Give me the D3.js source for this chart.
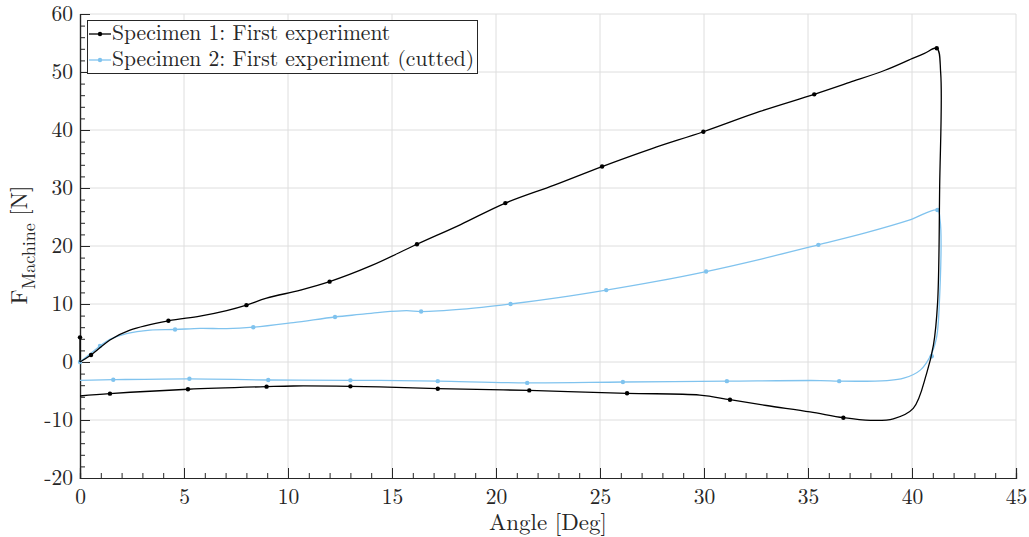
<!DOCTYPE html>
<html><head><meta charset="utf-8">
<script src="https://cdn.jsdelivr.net/npm/d3@7"></script>
<style>body{margin:0;background:#fff}svg{display:block}</style>
</head><body><div id="chart"></div>
<script>
// ---- data ----
const xTicks = [0,5,10,15,20,25,30,35,40,45];
const yTicks = [-20,-10,0,10,20,30,40,50,60];
const seriesNames = ["Specimen 1: First experiment","Specimen 2: First experiment (cutted)"];
const seriesColors = ["#000000","#80c3ee"];
// Specimen 1 path (loading then unloading)
const s1X = [0,0,0.53,1.44,2.4,4.25,5.77,7.05,8.0,8.97,10.6,12.0,14.0,16.2,18.3,20.45,22.8,25.1,27.5,29.97,32.69,35.3,37.0,38.7,40.0,40.6,41.19,41.38,41.33,41.23,41.03,40.7,40.06,39.1,38.0,36.7,35.1,33.0,31.25,29.8,26.3,21.6,17.2,14.4,13.0,10.26,8.97,5.19,1.44,0];
const s1Y = [4.25,0,1.2,3.8,5.5,7.1,7.9,8.85,9.8,11.0,12.4,13.85,16.6,20.3,23.7,27.4,30.5,33.7,36.8,39.7,43.2,46.15,48.2,50.3,52.3,53.2,54.1,49.8,30.2,10.2,2.9,-2.0,-8.0,-9.8,-10.05,-9.6,-8.6,-7.5,-6.5,-5.7,-5.4,-4.9,-4.6,-4.3,-4.2,-4.14,-4.25,-4.7,-5.46,-5.86];
const s1MarkX = [0,0.53,4.25,8.0,12.0,16.2,20.45,25.1,29.97,35.3,41.19,36.7,31.25,26.3,21.6,17.2,13.0,8.97,5.19,1.44];
const s1MarkY = [4.25,1.2,7.1,9.8,13.85,20.3,27.4,33.7,39.7,46.15,54.1,-9.6,-6.5,-5.4,-4.9,-4.6,-4.2,-4.25,-4.7,-5.46];
// Specimen 2 path
const s2X = [0,0.96,1.44,2.24,3.37,4.57,5.77,7.05,8.33,10.26,12.26,13.46,14.42,15.7,16.4,18.4,20.7,23.0,25.3,27.7,30.1,32.8,35.5,37.8,39.9,41.22,41.35,41.3,41.19,40.95,40.4,39.6,38.8,36.5,35.6,31.1,26.1,21.5,17.2,14.4,13.0,9.05,5.26,1.6,0];
const s2Y = [0,2.76,3.9,4.9,5.5,5.6,5.8,5.75,6.0,6.8,7.76,8.2,8.56,8.85,8.7,9.1,10.0,11.1,12.4,13.9,15.6,17.8,20.2,22.3,24.5,26.2,24.5,9.0,4.4,1.5,-1.4,-2.8,-3.2,-3.3,-3.2,-3.3,-3.45,-3.6,-3.3,-3.16,-3.16,-3.1,-2.9,-3.05,-3.16];
const s2MarkX = [0,0.96,4.57,8.33,12.26,16.4,20.7,25.3,30.1,35.5,41.22,40.95,36.5,31.1,26.1,21.5,17.2,13.0,9.05,5.26,1.6];
const s2MarkY = [0,2.76,5.6,6.0,7.76,8.7,10.0,12.4,15.6,20.2,26.2,1.0,-3.3,-3.3,-3.45,-3.6,-3.3,-3.16,-3.1,-2.9,-3.05];

// ---- layout ----
const FONT = "'Latin Modern Roman', 'Liberation Serif'";
const W = 1029, H = 537;
const m = {left:80, right:13, top:14, bottom:59};
const svg = d3.select("#chart").append("svg").attr("width",W).attr("height",H);
const x = d3.scaleLinear().domain([0,45]).range([m.left, W-m.right]);
const y = d3.scaleLinear().domain([-20,60]).range([H-m.bottom, m.top]);
const axisColor = "#262626";

// grid
const g = svg.append("g");
g.selectAll(".gx").data(xTicks.slice(1)).enter().append("line")
  .attr("x1",d=>x(d)).attr("x2",d=>x(d)).attr("y1",y(-20)).attr("y2",y(60))
  .attr("stroke","#dedede").attr("stroke-width",1);
g.selectAll(".gy").data(yTicks.slice(1)).enter().append("line")
  .attr("x1",x(0)).attr("x2",x(45)).attr("y1",d=>y(d)).attr("y2",d=>y(d))
  .attr("stroke","#dedede").attr("stroke-width",1);

// axes
const fmt = d => String(d);
const xAxis = d3.axisBottom(x).tickValues(xTicks).tickSize(-10).tickPadding(11).tickFormat(fmt);
const xMinor = d3.axisBottom(x).tickValues(d3.range(0,46,1)).tickSize(-5).tickFormat("");
const yAxis = d3.axisLeft(y).tickValues(yTicks).tickSize(-10).tickPadding(7).tickFormat(fmt);
const yMinor = d3.axisLeft(y).tickValues(d3.range(-20,61,2)).tickSize(-5).tickFormat("");
function style(sel){
  sel.attr("font-family",null).attr("font-size",null);
  sel.select(".domain").attr("stroke",axisColor).attr("stroke-width",1.2);
  sel.selectAll(".tick line").attr("stroke",axisColor).attr("stroke-width",1);
  sel.selectAll(".tick text").attr("fill",axisColor).attr("font-family",FONT).attr("font-size",21.5);
}
svg.append("g").attr("transform",`translate(0,${y(-20)})`).call(xMinor).call(style);
svg.append("g").attr("transform",`translate(0,${y(-20)})`).call(xAxis).call(style);
svg.append("g").attr("transform",`translate(${x(0)},0)`).call(yMinor).call(style);
svg.append("g").attr("transform",`translate(${x(0)},0)`).call(yAxis).call(style);

// lines
const line = d3.line().x(d=>x(d[0])).y(d=>y(d[1])).curve(d3.curveCatmullRom.alpha(0.5));
const series = [
  {pts:d3.zip(s1X,s1Y), mk:d3.zip(s1MarkX,s1MarkY), color:seriesColors[0]},
  {pts:d3.zip(s2X,s2Y), mk:d3.zip(s2MarkX,s2MarkY), color:seriesColors[1]}
];
[series[1], series[0]].forEach(s=>{
  svg.append("path").datum(s.pts.slice(0,2)).attr("d",d3.line().x(d=>x(d[0])).y(d=>y(d[1])))
    .attr("fill","none").attr("stroke",s.color).attr("stroke-width",1.3);
  svg.append("path").datum(s.pts.slice(1)).attr("d",line).attr("fill","none").attr("stroke",s.color).attr("stroke-width",1.3);
  svg.append("g").selectAll("circle").data(s.mk).enter().append("circle")
    .attr("cx",d=>x(d[0])).attr("cy",d=>y(d[1])).attr("r",2.2).attr("fill",s.color);
});

// axis labels
svg.append("text").attr("x",(x(0)+x(45))/2).attr("y",530).attr("text-anchor","middle")
  .attr("font-family",FONT).attr("font-size",23).attr("fill",axisColor).text("Angle [Deg]");
const yl = svg.append("text").attr("transform",`translate(27,245) rotate(-90)`).attr("text-anchor","middle")
  .attr("font-family",FONT).attr("font-size",23).attr("fill",axisColor);
yl.append("tspan").text("F");
yl.append("tspan").attr("dy",8).attr("font-size",18).text("Machine");
yl.append("tspan").attr("dy",-8).text(" [N]");

// legend
const lg = svg.append("g");
lg.append("rect").attr("x",87.5).attr("y",20.5).attr("width",390).attr("height",53).attr("fill","#fff").attr("stroke",axisColor).attr("stroke-width",1);
seriesNames.forEach((n,i)=>{
  const cy = 34 + i*26;
  lg.append("line").attr("x1",89).attr("x2",111).attr("y1",cy).attr("y2",cy).attr("stroke",seriesColors[i]).attr("stroke-width",1.3);
  lg.append("circle").attr("cx",100).attr("cy",cy).attr("r",2.2).attr("fill",seriesColors[i]);
  lg.append("text").attr("x",112).attr("y",cy+5.5).attr("font-family",FONT).attr("font-size",21.6).attr("fill",axisColor).text(n);
});
</script></body></html>
